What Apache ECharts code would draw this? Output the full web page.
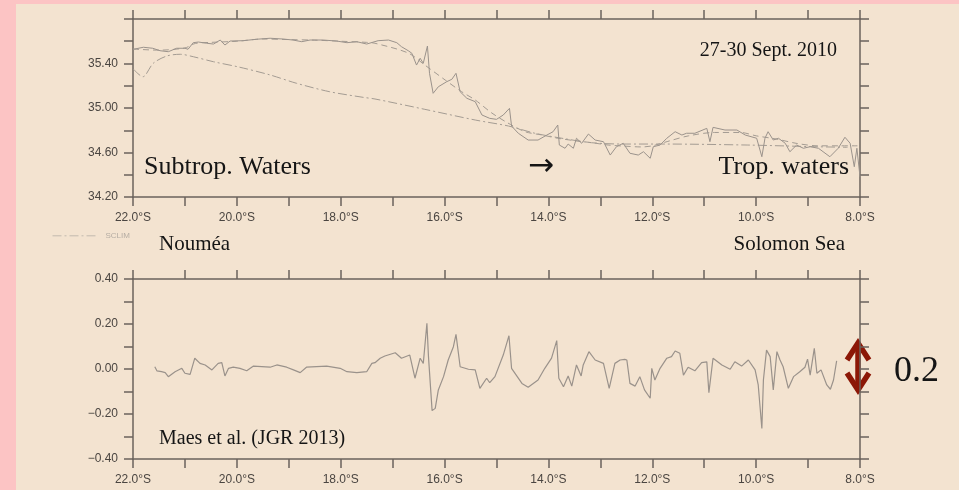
<!DOCTYPE html>
<html><head><meta charset="utf-8">
<script src="https://cdn.jsdelivr.net/npm/echarts@6/dist/echarts.min.js"></script>
<style>
html,body{margin:0;padding:0;background:#fcc4c4;}
#panel{position:absolute;left:16px;top:4px;width:943px;height:486px;background:#f3e3d0;}
#main{position:absolute;left:0;top:0;width:959px;height:490px;}
</style></head><body>
<div id="panel"></div><div id="main"></div>
<script>
// ---- ticks & tick labels ----
const latTicks = [8,9,10,11,12,13,14,15,16,17,18,19,20,21,22];
const latTickValues = [22, 20, 18, 16, 14, 12, 10, 8];
const salTicks = [34.2, 34.4, 34.6, 34.8, 35.0, 35.2, 35.4, 35.6, 35.8];
const salTickValues = [34.2, 34.6, 35.0, 35.4];
const diffTicks = [-0.4, -0.3, -0.2, -0.1, 0, 0.1, 0.2, 0.3, 0.4];
const diffTickValues = [-0.4, -0.2, 0, 0.2, 0.4];

// ---- upper panel: observed SSS (solid) ----
const obsLat = [21.99,21.80,21.62,21.48,21.32,21.16,21.00,20.94,20.84,20.74,20.58,20.45,20.32,20.23,20.13,19.88,19.62,19.36,19.11,18.92,18.75,18.59,18.34,18.08,17.88,17.69,17.50,17.28,17.08,16.92,16.83,16.70,16.63,16.54,16.47,16.41,16.33,16.29,16.22,16.12,15.96,15.86,15.78,15.70,15.57,15.41,15.28,15.13,15.00,14.87,14.75,14.71,14.58,14.39,14.20,14.03,13.91,13.82,13.79,13.68,13.62,13.52,13.46,13.36,13.23,13.10,12.94,12.81,12.69,12.56,12.43,12.27,12.17,12.04,11.98,11.85,11.72,11.56,11.43,11.34,11.18,10.95,10.89,10.83,10.60,10.37,10.21,9.99,9.89,9.83,9.77,9.67,9.57,9.44,9.35,9.22,9.09,8.96,8.80,8.58,8.42,8.29,8.19,8.11,8.06,8.00];
const obsSal = [35.528,35.546,35.537,35.515,35.506,35.537,35.537,35.528,35.587,35.593,35.582,35.575,35.611,35.566,35.602,35.605,35.618,35.627,35.620,35.611,35.596,35.611,35.611,35.602,35.587,35.596,35.575,35.605,35.611,35.587,35.551,35.515,35.492,35.386,35.447,35.402,35.557,35.312,35.132,35.191,35.236,35.258,35.312,35.146,35.087,35.057,34.937,34.907,34.898,34.937,34.997,34.838,34.773,34.712,34.712,34.757,34.787,34.847,34.667,34.638,34.676,34.638,34.728,34.683,34.766,34.712,34.697,34.577,34.652,34.683,34.593,34.577,34.607,34.548,34.652,34.667,34.728,34.787,34.757,34.773,34.773,34.817,34.697,34.826,34.802,34.802,34.757,34.728,34.562,34.728,34.787,34.712,34.728,34.683,34.607,34.667,34.638,34.652,34.638,34.562,34.638,34.737,34.683,34.472,34.638,34.382];

// ---- upper panel: smoothed SSS (dashed) ----
const smLat = [22.00,21.50,21.00,20.80,20.50,20.00,19.50,19.00,18.50,18.00,17.50,17.34,16.70,16.38,15.99,15.67,15.41,15.09,14.78,14.45,14.12,13.82,13.49,13.16,12.85,12.56,12.20,12.00,11.70,11.30,10.80,10.30,10.00,9.60,9.20,8.80,8.40,8.05];
const smSal = [35.53,35.52,35.54,35.58,35.59,35.60,35.62,35.615,35.61,35.60,35.59,35.582,35.494,35.386,35.252,35.146,35.072,34.955,34.865,34.787,34.757,34.728,34.706,34.688,34.667,34.658,34.65,34.66,34.70,34.75,34.78,34.78,34.75,34.72,34.68,34.66,34.66,34.66];

// ---- upper panel: climatology SCLIM (dash-dot) ----
const clLat = [21.99,21.81,21.61,21.35,21.09,20.84,20.45,19.94,19.36,18.85,18.21,17.57,17.34,16.38,15.41,14.77,14.26,13.74,13.17,12.56,11.76,10.16,8.87,8.24];
const clSal = [35.348,35.281,35.402,35.467,35.483,35.461,35.416,35.366,35.297,35.222,35.146,35.096,35.081,34.988,34.892,34.838,34.773,34.728,34.688,34.676,34.676,34.667,34.652,34.647];

// ---- lower panel: difference ----
const dLat = [21.58,21.54,21.45,21.38,21.32,21.19,21.06,21.00,20.90,20.81,20.71,20.61,20.48,20.36,20.29,20.23,20.16,20.07,19.94,19.81,19.68,19.36,19.23,19.04,18.91,18.78,18.66,18.27,18.01,17.88,17.69,17.50,17.40,17.34,17.24,17.15,16.95,16.83,16.67,16.57,16.47,16.41,16.34,16.31,16.24,16.18,16.12,16.02,15.93,15.83,15.78,15.70,15.54,15.41,15.32,15.19,15.13,15.03,14.87,14.76,14.71,14.51,14.39,14.20,14.07,13.94,13.84,13.80,13.71,13.62,13.55,13.46,13.37,13.33,13.22,13.10,12.94,12.83,12.72,12.62,12.53,12.49,12.43,12.33,12.24,12.15,12.04,12.01,11.95,11.85,11.72,11.63,11.56,11.47,11.40,11.31,11.18,11.05,10.95,10.91,10.83,10.66,10.50,10.41,10.28,10.15,10.02,9.96,9.89,9.86,9.80,9.73,9.67,9.60,9.54,9.48,9.38,9.28,9.16,9.06,9.01,8.96,8.88,8.83,8.75,8.64,8.57,8.51,8.45];
const dVal = [0.010,-0.008,-0.012,-0.016,-0.034,-0.012,0.003,-0.019,-0.024,0.048,0.025,0.018,-0.004,0.025,0.028,-0.031,0.003,0.008,0.003,-0.008,0.013,0.008,0.018,0.008,-0.004,-0.016,0.008,0.013,0.003,-0.012,-0.016,-0.012,0.025,0.028,0.048,0.058,0.072,0.048,0.062,-0.041,0.048,0.025,0.203,0.055,-0.185,-0.175,-0.093,-0.034,0.040,0.099,0.154,0.010,-0.001,-0.004,-0.086,-0.041,-0.061,-0.034,0.062,0.148,0.003,-0.064,-0.081,-0.049,0.003,0.048,0.126,-0.041,-0.079,-0.031,-0.076,0.018,-0.031,0.018,0.077,0.040,0.025,-0.086,0.025,0.040,0.043,0.040,-0.064,-0.076,-0.034,-0.093,-0.130,0.003,-0.049,0.003,0.048,0.055,0.080,0.070,-0.027,0.008,-0.008,0.028,0.032,-0.105,0.048,0.018,-0.001,0.032,0.013,0.040,-0.004,-0.071,-0.264,-0.049,0.084,0.055,-0.093,0.077,0.040,0.010,-0.086,-0.034,-0.012,0.008,0.044,-0.027,0.092,-0.019,-0.004,-0.071,-0.090,-0.049,0.036];

const zip = (a, b) => a.map((v, i) => [v, b[i]]);
const AXC = '#6b635c';
const LBL = {color: '#4a4541', fontFamily: 'Liberation Sans', fontSize: 12};

function xAx(gridIndex, position, showLabel) {
  return {
    type: 'value', gridIndex, position, min: 8, max: 22, interval: 1, inverse: true,
    axisLine: {show: true, onZero: false, lineStyle: {color: AXC, width: 1.5}},
    axisTick: {show: true, inside: false, length: 9, customValues: latTicks, lineStyle: {color: AXC, width: 1.5}},
    splitLine: {show: false},
    axisLabel: Object.assign({show: showLabel, margin: 15, customValues: latTickValues,
      formatter: v => (+v).toFixed(1) + '°S'}, LBL)
  };
}
function yAx(gridIndex, position, min, max, interval, ticks, labels, fmt, showLabel) {
  return {
    type: 'value', gridIndex, position, min, max, interval,
    axisLine: {show: true, onZero: false, lineStyle: {color: AXC, width: 1.5}},
    axisTick: {show: true, inside: false, length: 9, customValues: ticks, lineStyle: {color: AXC, width: 1.5}},
    splitLine: {show: false},
    axisLabel: Object.assign({show: showLabel, margin: 15, customValues: labels, formatter: fmt}, LBL)
  };
}
const salFmt = v => (+v).toFixed(2);
const diffFmt = v => (v < -1e-9 ? '\u2212' : '') + Math.abs(v).toFixed(2);

function txt(text, x, y, size, align, family) {
  return {
    type: 'text', x, y, silent: true,
    style: {text, fill: '#151515', font: size + 'px ' + (family || '"Liberation Serif"'),
      align, verticalAlign: 'middle', textAlign: align, textVerticalAlign: 'middle'}
  };
}

const chart = echarts.init(document.getElementById('main'), null, {renderer: 'canvas'});
chart.setOption({
  animation: false,
  backgroundColor: 'transparent',
  grid: [
    {left: 133, right: 99, top: 19, height: 178},
    {left: 133, right: 99, top: 279, height: 180}
  ],
  xAxis: [xAx(0, 'bottom', true), xAx(0, 'top', false), xAx(1, 'bottom', true), xAx(1, 'top', false)],
  yAxis: [
    yAx(0, 'left', 34.2, 35.8, 0.2, salTicks, salTickValues, salFmt, true),
    yAx(0, 'right', 34.2, 35.8, 0.2, salTicks, salTickValues, salFmt, false),
    yAx(1, 'left', -0.4, 0.4, 0.1, diffTicks, diffTickValues, diffFmt, true),
    yAx(1, 'right', -0.4, 0.4, 0.1, diffTicks, diffTickValues, diffFmt, false)
  ],
  legend: {
    data: ['SCLIM'], left: 52, top: 231, padding: 0, itemWidth: 44, itemHeight: 12,
    itemStyle: {opacity: 0},
    lineStyle: {color: '#c2b9ae', width: 1, opacity: 1},
    textStyle: {color: '#b5ada3', fontSize: 8, fontFamily: 'Liberation Sans', padding: [0, 0, 0, 4]}
  },
  series: [
    {type: 'line', name: 'SCLIM', xAxisIndex: 0, yAxisIndex: 0, data: zip(clLat, clSal), symbol: 'none', smooth: 0.3,
      itemStyle: {color: '#a39b92'},
      lineStyle: {color: '#a39b92', width: 1, type: [9, 3, 2, 3]}, silent: true},
    {type: 'line', name: 'smooth', xAxisIndex: 0, yAxisIndex: 0, data: zip(smLat, smSal), symbol: 'none', smooth: 0.3,
      lineStyle: {color: '#a39b92', width: 1, type: [6, 4]}, silent: true},
    {type: 'line', name: 'obs', xAxisIndex: 0, yAxisIndex: 0, data: zip(obsLat, obsSal), symbol: 'none',
      lineStyle: {color: '#9a928b', width: 1}, silent: true},
    {type: 'line', name: 'diff', xAxisIndex: 2, yAxisIndex: 2, data: zip(dLat, dVal), symbol: 'none',
      lineStyle: {color: '#9a928b', width: 1.2}, silent: true}
  ],
  graphic: [
    txt('27-30 Sept. 2010', 837, 51, 20, 'right'),
    txt('Subtrop. Waters', 144, 167, 26, 'left'),
    txt('Trop. waters', 849, 167, 26, 'right'),
    txt('\u2192', 541, 167, 31, 'center', '"DejaVu Sans"'),
    txt('Noum\u00e9a', 159, 244, 21, 'left'),
    txt('Solomon Sea', 845, 244, 21, 'right'),
    txt('Maes et al. (JGR 2013)', 159, 439, 20, 'left'),
    txt('0.2', 894, 372, 36, 'left'),
    {type: 'polyline', silent: true, shape: {points: [[858, 344], [858, 389]]},
      style: {stroke: '#8c1706', lineWidth: 5.5, fill: null}},
    {type: 'polyline', silent: true, shape: {points: [[847, 360], [858, 343], [869, 360]]},
      style: {stroke: '#8c1706', lineWidth: 5.5, fill: null, lineJoin: 'miter'}},
    {type: 'polyline', silent: true, shape: {points: [[847, 373], [858, 390], [869, 373]]},
      style: {stroke: '#8c1706', lineWidth: 5.5, fill: null, lineJoin: 'miter'}}
  ]
});
</script></body></html>
